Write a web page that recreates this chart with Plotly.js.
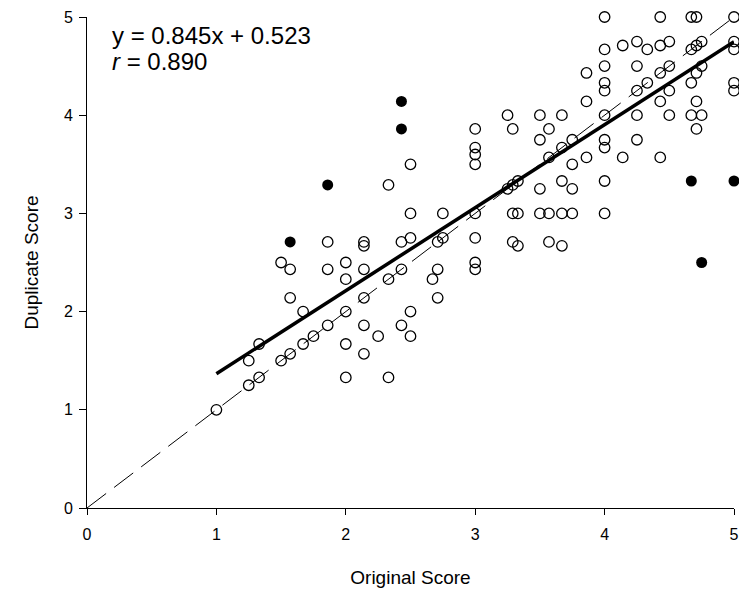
<!DOCTYPE html>
<html>
<head>
<meta charset="utf-8">
<script src="https://cdn.plot.ly/plotly-3.0.1.min.js"></script>
<style>html,body{margin:0;padding:0;background:#fff;}#chart{width:739px;height:590px;}</style>
</head>
<body>
<div id="chart"></div>
<script>
// Open circles: original score vs duplicate score
const openX = [
  1.00,
  1.25, 1.25,
  1.33, 1.33,
  1.50, 1.50,
  1.57, 1.57, 1.57,
  1.67, 1.67,
  1.75,
  1.86, 1.86, 1.86,
  2.00, 2.00, 2.00, 2.00, 2.00,
  2.14, 2.14, 2.14, 2.14, 2.14, 2.14,
  2.25,
  2.33, 2.33, 2.33,
  2.43, 2.43, 2.43,
  2.50, 2.50, 2.50, 2.50, 2.50,
  2.67,
  2.71, 2.71, 2.71,
  2.75, 2.75,
  3.00, 3.00, 3.00, 3.00, 3.00, 3.00, 3.00, 3.00,
  3.25, 3.25,
  3.29, 3.29, 3.29, 3.29,
  3.33, 3.33, 3.33,
  3.50, 3.50, 3.50, 3.50,
  3.57, 3.57, 3.57, 3.57,
  3.67, 3.67, 3.67, 3.67, 3.67,
  3.75, 3.75, 3.75, 3.75,
  3.86, 3.86, 3.86,
  4.00, 4.00, 4.00, 4.00, 4.00, 4.00, 4.00, 4.00, 4.00, 4.00,
  4.14, 4.14,
  4.25, 4.25, 4.25, 4.25, 4.25,
  4.33, 4.33,
  4.43, 4.43, 4.43, 4.43, 4.43,
  4.50, 4.50, 4.50, 4.50,
  4.67, 4.67, 4.67, 4.67,
  4.71, 4.71, 4.71, 4.71, 4.71,
  4.75, 4.75, 4.75,
  5.00, 5.00, 5.00, 5.00, 5.00
];
const openY = [
  1.00,
  1.25, 1.50,
  1.33, 1.67,
  1.50, 2.50,
  1.57, 2.14, 2.43,
  1.67, 2.00,
  1.75,
  1.86, 2.43, 2.71,
  1.33, 1.67, 2.00, 2.33, 2.50,
  1.57, 1.86, 2.14, 2.43, 2.67, 2.71,
  1.75,
  1.33, 2.33, 3.29,
  1.86, 2.43, 2.71,
  1.75, 2.00, 2.75, 3.00, 3.50,
  2.33,
  2.14, 2.43, 2.71,
  2.75, 3.00,
  2.43, 2.50, 2.75, 3.00, 3.50, 3.60, 3.67, 3.86,
  3.25, 4.00,
  2.71, 3.00, 3.29, 3.86,
  2.67, 3.00, 3.33,
  3.00, 3.25, 3.75, 4.00,
  2.71, 3.00, 3.57, 3.86,
  2.67, 3.00, 3.33, 3.67, 4.00,
  3.00, 3.25, 3.50, 3.75,
  3.57, 4.14, 4.43,
  3.00, 3.33, 3.67, 3.75, 4.00, 4.25, 4.33, 4.50, 4.67, 5.00,
  3.57, 4.71,
  3.75, 4.00, 4.25, 4.50, 4.75,
  4.33, 4.67,
  3.57, 4.14, 4.43, 4.71, 5.00,
  4.00, 4.25, 4.50, 4.75,
  4.00, 4.33, 4.67, 5.00,
  3.86, 4.14, 4.43, 4.71, 5.00,
  4.00, 4.50, 4.75,
  4.25, 4.33, 4.67, 4.75, 5.00
];
// Filled circles (outliers)
const filledX = [1.57, 1.86, 2.43, 2.43, 4.67, 5.00, 4.75];
const filledY = [2.71, 3.29, 4.14, 3.86, 3.33, 3.33, 2.50];
// Regression: y = 0.845x + 0.523, drawn from x=1 to x=5
const slope = 0.845;
const intercept = 0.523;
const regX = [1, 5];
// Identity line
const idX = [0, 5];
const xTicks = [0, 1, 2, 3, 4, 5];
const yTicks = [0, 1, 2, 3, 4, 5];
const statLines = ['y = 0.845x + 0.523', '<i>r</i> = 0.890'];

const FONT = 'Liberation Sans, Arial, sans-serif';

const traces = [
  {
    x: idX, y: idX, type: 'scatter', mode: 'lines',
    line: {color: '#000', width: 1, dash: '24px,10px'},
    hoverinfo: 'skip', showlegend: false, cliponaxis: false
  },
  {
    x: openX, y: openY, type: 'scatter', mode: 'markers',
    marker: {symbol: 'circle-open', size: 10.5, color: '#000', line: {width: 1.3, color: '#000'}},
    showlegend: false, cliponaxis: false
  },
  {
    x: filledX, y: filledY, type: 'scatter', mode: 'markers',
    marker: {symbol: 'circle', size: 11, color: '#000'},
    showlegend: false, cliponaxis: false
  },
  {
    x: regX, y: regX.map(v => slope * v + intercept), type: 'scatter', mode: 'lines',
    line: {color: '#000', width: 3.5},
    showlegend: false, cliponaxis: false
  }
];

const layout = {
  width: 739, height: 590,
  margin: {l: 87, r: 5, t: 17, b: 82},
  paper_bgcolor: '#fff', plot_bgcolor: '#fff',
  font: {family: FONT, color: '#000', size: 16},
  showlegend: false,
  xaxis: {
    range: [0, 5], tickvals: xTicks, ticktext: xTicks.map(String),
    showgrid: false, zeroline: false, showline: true, linecolor: '#000', linewidth: 1,
    ticks: 'outside', ticklen: 6, tickwidth: 1, tickcolor: '#000',
    ticklabelstandoff: 6,
    tickfont: {family: FONT, size: 16, color: '#000'},
    title: {text: 'Original Score', font: {family: FONT, size: 19, color: '#000'}, standoff: 28},
    automargin: false, fixedrange: true
  },
  yaxis: {
    range: [0, 5], tickvals: yTicks, ticktext: yTicks.map(String),
    showgrid: false, zeroline: false, showline: true, linecolor: '#000', linewidth: 1,
    ticks: 'outside', ticklen: 7, tickwidth: 1, tickcolor: '#000',
    ticklabelstandoff: 3,
    tickfont: {family: FONT, size: 16, color: '#000'},
    title: {text: 'Duplicate Score', font: {family: FONT, size: 19, color: '#000'}, standoff: 20},
    automargin: false, fixedrange: true
  },
  annotations: [
    {
      xref: 'paper', yref: 'paper', x: 0.035, y: 0.962,
      xanchor: 'left', yanchor: 'middle', align: 'left', showarrow: false,
      text: statLines[0],
      font: {family: FONT, size: 24, color: '#000'}
    },
    {
      xref: 'paper', yref: 'paper', x: 0.035, y: 0.91,
      xanchor: 'left', yanchor: 'middle', align: 'left', showarrow: false,
      text: statLines[1],
      font: {family: FONT, size: 24, color: '#000'}
    }
  ]
};

Plotly.newPlot('chart', traces, layout, {displayModeBar: false, staticPlot: true});
</script>
</body>
</html>
